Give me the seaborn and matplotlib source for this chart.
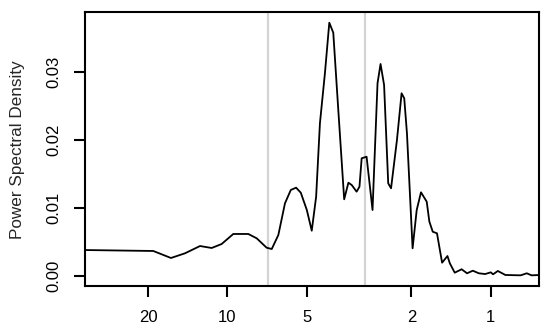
import numpy as np
import pandas as pd
import matplotlib
matplotlib.use('Agg')
import matplotlib.pyplot as plt
import seaborn as sns

# period (x axis, log scale, reversed) and power spectral density
period = [34.68, 19.09, 16.36, 14.47, 12.69, 11.46, 10.50, 9.49, 8.32, 7.73,
          7.09, 6.78, 6.40, 6.04, 5.74, 5.48, 5.26, 4.99, 4.78, 4.60,
          4.45, 4.26, 4.10, 3.96, 3.79, 3.60, 3.47, 3.37, 3.23, 3.15,
          3.09, 2.96, 2.81, 2.69, 2.62, 2.54, 2.45, 2.39, 2.27, 2.18,
          2.13, 2.08, 1.98, 1.91, 1.84, 1.75, 1.71, 1.66, 1.60, 1.53,
          1.46, 1.43, 1.37, 1.29, 1.23, 1.17, 1.11, 1.05, 1.00, 0.98,
          0.94, 0.88, 0.77, 0.73, 0.70, 0.65]
psd = [0.00382, 0.00368, 0.00265, 0.00334, 0.00441, 0.00412, 0.00471, 0.00618, 0.00618, 0.00554,
       0.00416, 0.00397, 0.00603, 0.01069, 0.01265, 0.01299, 0.01225, 0.00971, 0.00666, 0.01166,
       0.02246, 0.02981, 0.03725, 0.03578, 0.02441, 0.01128, 0.01372, 0.01338, 0.01240, 0.01313,
       0.01731, 0.01754, 0.00971, 0.02834, 0.03118, 0.02809, 0.01363, 0.01290, 0.02000, 0.02687,
       0.02613, 0.02099, 0.00407, 0.00971, 0.01231, 0.01093, 0.00799, 0.00651, 0.00628, 0.00196,
       0.00294, 0.00187, 0.00049, 0.00099, 0.00040, 0.00078, 0.00040, 0.00029, 0.00054, 0.00025,
       0.00074, 0.00015, 0.00010, 0.00040, 0.00010, 0.00015]

band_edges = [7, 3]
x_ticks = [20, 10, 5, 2, 1]
y_ticks = [0.00, 0.01, 0.02, 0.03]

df = pd.DataFrame({'period': period, 'psd': psd})

sns.set_style('ticks')
plt.rcParams['font.family'] = ['Liberation Sans', 'DejaVu Sans']

fig = plt.figure(figsize=(5.5, 3.34), dpi=100)
ax = fig.add_axes([0.1545, 0.1437, 0.8255, 0.8195])

for b in band_edges:
    ax.axvline(b, color='#d3d3d3', lw=1.6, zorder=1)

sns.lineplot(data=df, x='period', y='psd', ax=ax, color='black', lw=1.3, zorder=2)

ax.set_xscale('log', base=2)
ax.set_xlim(34.68, 0.656)
ax.set_ylim(-0.00147, 0.03878)
ax.set_xticks(x_ticks)
ax.set_xticklabels([str(t) for t in x_ticks])
ax.xaxis.set_minor_locator(matplotlib.ticker.NullLocator())
ax.set_yticks(y_ticks)
ax.set_yticklabels([f'{t:.2f}' for t in y_ticks])
for lbl in ax.get_yticklabels():
    lbl.set_rotation(90)
    lbl.set_va('center')

ax.tick_params(axis='both', direction='out', length=8, width=1.5, labelsize=12,
               color='black', labelcolor='black')
ax.tick_params(axis='x', pad=9.5)
ax.tick_params(axis='y', pad=9)
for s in ax.spines.values():
    s.set_visible(True)
    s.set_linewidth(1.5)
    s.set_color('black')

ax.set_xlabel('')
ax.set_ylabel('Power Spectral Density', fontsize=12.3)
ax.yaxis.label.set_va('center')
ax.yaxis.set_label_coords(-0.1476, 0.5)

fig.savefig('out.png', dpi=100)
